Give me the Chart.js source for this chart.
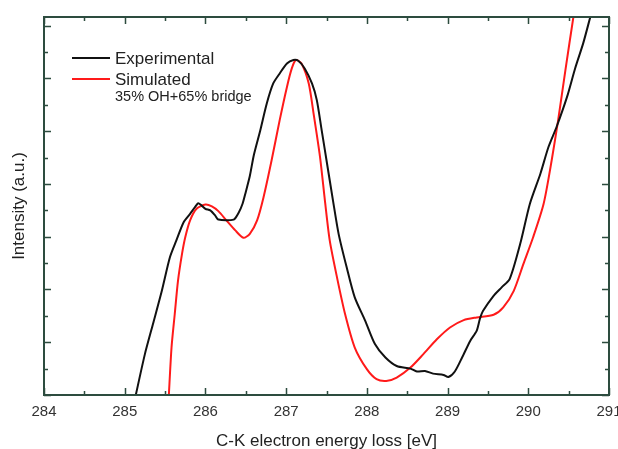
<!DOCTYPE html>
<html>
<head>
<meta charset="utf-8">
<script src="https://cdn.jsdelivr.net/npm/chart.js@4"></script>
<style>
  html, body { margin: 0; padding: 0; background: #fff; overflow: hidden; }
  canvas { display: block; }
</style>
</head>
<body>
<canvas id="c" width="618" height="449"></canvas>
<script>
// energy axis (eV) and intensity (a.u.)
const expEnergy = [285.13, 285.25, 285.35, 285.46, 285.56, 285.64, 285.73, 285.81, 285.87, 285.91, 285.95, 286.00, 286.06, 286.12, 286.16, 286.35, 286.41, 286.46, 286.50, 286.55, 286.60, 286.68, 286.76, 286.84, 286.92, 287.01, 287.09, 287.15, 287.23, 287.32, 287.38, 287.44, 287.50, 287.58, 287.65, 287.75, 287.85, 287.98, 288.10, 288.23, 288.37, 288.54, 288.62, 288.72, 288.82, 288.95, 289.01, 289.09, 289.18, 289.28, 289.36, 289.40, 289.44, 289.57, 289.67, 289.77, 289.90, 290.02, 290.15, 290.25, 290.35, 290.48, 290.58, 290.68, 290.77, 290.81];
const expIntensity = [-0.1, 1.55, 2.69, 3.95, 5.22, 5.86, 6.55, 6.87, 7.12, 7.27, 7.19, 7.06, 7.00, 6.81, 6.65, 6.65, 6.90, 7.25, 7.70, 8.30, 9.10, 10.04, 11.05, 11.81, 12.19, 12.57, 12.70, 12.67, 12.38, 11.81, 11.18, 10.04, 8.90, 7.38, 6.11, 4.84, 3.70, 2.81, 1.93, 1.42, 1.10, 1.00, 0.89, 0.91, 0.81, 0.76, 0.68, 0.89, 1.42, 2.05, 2.43, 2.88, 3.19, 3.76, 4.08, 4.40, 5.73, 7.25, 8.39, 9.40, 10.16, 11.30, 12.38, 13.33, 14.35, 14.80];

const simEnergy = [285.545, 285.58, 285.62, 285.66, 285.71, 285.75, 285.81, 285.89, 286.00, 286.08, 286.16, 286.26, 286.37, 286.47, 286.55, 286.64, 286.72, 286.82, 286.92, 287.01, 287.07, 287.12, 287.19, 287.28, 287.34, 287.42, 287.48, 287.54, 287.63, 287.73, 287.85, 288.00, 288.12, 288.24, 288.37, 288.54, 288.70, 288.87, 289.03, 289.20, 289.36, 289.57, 289.69, 289.82, 289.94, 290.06, 290.19, 290.29, 290.37, 290.46, 290.56, 290.59];
const simIntensity = [-0.1, 1.80, 3.07, 4.33, 5.35, 5.98, 6.62, 7.06, 7.22, 7.15, 6.97, 6.62, 6.24, 5.96, 6.11, 6.62, 7.50, 8.90, 10.42, 11.68, 12.38, 12.70, 12.57, 11.81, 10.67, 9.02, 7.38, 5.86, 4.46, 3.07, 1.80, 0.98, 0.60, 0.53, 0.66, 1.04, 1.55, 2.12, 2.56, 2.84, 2.94, 3.04, 3.32, 3.95, 4.97, 5.98, 7.25, 8.90, 10.42, 12.32, 14.35, 14.90];

const seriesNames = ['Experimental', 'Simulated'];
const simNote = '35% OH+65% bridge';
const xTitle = 'C-K electron energy loss [eV]';
const yTitle = 'Intensity (a.u.)';

const FONT = '"Liberation Sans", Arial, sans-serif';
const FRAME = '#2d4c3f';

function toPoints(xs, ys) {
  return xs.map((x, i) => ({ x: x, y: ys[i] }));
}

// box round the plot with ticks pointing inwards, plus the legend inside the plot
const framePlugin = {
  id: 'frame',
  afterDraw(chart) {
    const ctx = chart.ctx;
    const a = chart.chartArea;
    const xs = chart.scales.x;
    const ys = chart.scales.y;
    ctx.save();
    ctx.strokeStyle = FRAME;
    ctx.lineWidth = 1.5;
    ctx.beginPath();
    xs.ticks.forEach(t => {
      const px = Math.round(xs.getPixelForValue(t.value)) + 0.5;
      const len = Number.isInteger(t.value) ? 7 : 4;
      ctx.moveTo(px, a.bottom); ctx.lineTo(px, a.bottom - len);
      ctx.moveTo(px, a.top); ctx.lineTo(px, a.top + len);
    });
    ys.ticks.forEach(t => {
      const py = Math.round(ys.getPixelForValue(t.value)) + 0.5;
      const len = (t.value % 2 === 0) ? 7 : 4;
      ctx.moveTo(a.left, py); ctx.lineTo(a.left + len, py);
      ctx.moveTo(a.right, py); ctx.lineTo(a.right - len, py);
    });
    ctx.stroke();
    ctx.lineWidth = 2;
    ctx.strokeRect(a.left, a.top, a.right - a.left, a.bottom - a.top);

    // legend
    const rows = [64, 85];
    chart.data.datasets.forEach((ds, i) => {
      ctx.strokeStyle = ds.borderColor;
      ctx.lineWidth = 2;
      ctx.beginPath();
      ctx.moveTo(72, rows[i] - 6);
      ctx.lineTo(110, rows[i] - 6);
      ctx.stroke();
      ctx.fillStyle = '#222';
      ctx.font = '17px ' + FONT;
      ctx.textBaseline = 'alphabetic';
      ctx.fillText(ds.label, 115, rows[i]);
    });
    ctx.font = '14.5px ' + FONT;
    ctx.fillText(simNote, 115, 101);
    ctx.restore();
  }
};

new Chart(document.getElementById('c'), {
  type: 'line',
  data: {
    datasets: [
      {
        label: seriesNames[0],
        data: toPoints(expEnergy, expIntensity),
        borderColor: '#111111',
        borderWidth: 2,
        pointRadius: 0,
        tension: 0.25
      },
      {
        label: seriesNames[1],
        data: toPoints(simEnergy, simIntensity),
        borderColor: '#ff1a1a',
        borderWidth: 2,
        pointRadius: 0,
        tension: 0.25
      }
    ]
  },
  options: {
    responsive: false,
    animation: false,
    layout: { autoPadding: false, padding: { top: 17, right: 9, left: 0, bottom: 0 } },
    plugins: {
      legend: { display: false },
      tooltip: { enabled: false }
    },
    scales: {
      x: {
        type: 'linear',
        min: 284,
        max: 291,
        // let the "291" label run off the edge like in the original
        afterFit: scale => { scale.paddingLeft = 0; scale.paddingRight = 0; },
        grid: { display: false, drawTicks: false },
        border: { display: false },
        ticks: {
          stepSize: 0.5,
          autoSkip: false,
          maxRotation: 0,
          padding: 8,
          color: '#333',
          font: { family: FONT, size: 15 },
          callback: v => Number.isInteger(v) ? String(v) : ''
        },
        title: {
          display: true,
          text: xTitle,
          color: '#222',
          font: { family: FONT, size: 17 },
          padding: { top: 1.8, bottom: -2.2 }
        }
      },
      y: {
        min: 0,
        max: 14.33,
        grid: { display: false, drawTicks: false },
        border: { display: false },
        ticks: { stepSize: 1, display: false, includeBounds: false },
        title: {
          display: true,
          text: yTitle,
          color: '#222',
          font: { family: FONT, size: 17 },
          padding: { top: 9.3, bottom: 14.3 }
        }
      }
    }
  },
  plugins: [framePlugin]
});
</script>
</body>
</html>
